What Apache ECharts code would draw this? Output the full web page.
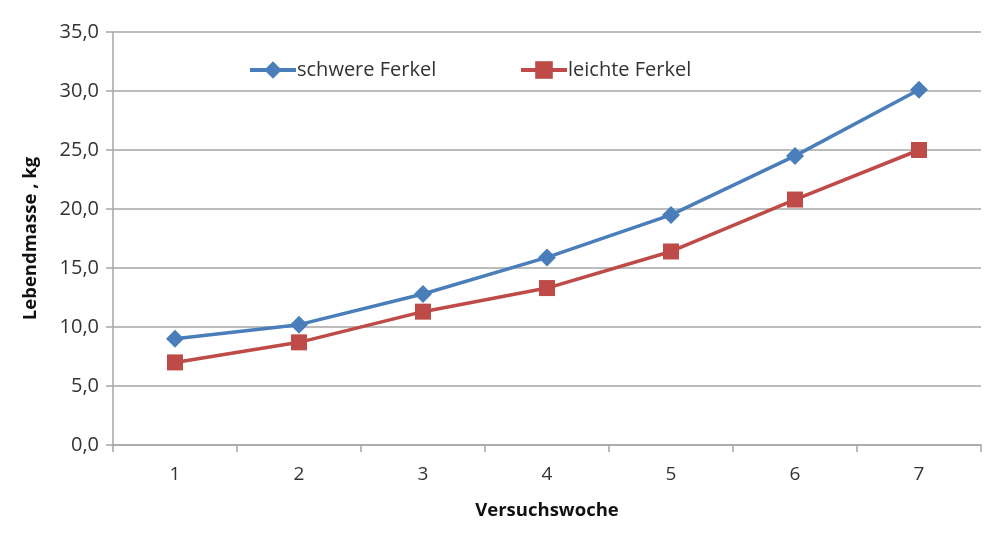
<!DOCTYPE html>
<html>
<head>
<meta charset="utf-8">
<script src="https://cdn.jsdelivr.net/npm/echarts@6/dist/echarts.min.js"></script>
<style>html,body{margin:0;padding:0;background:#fff}#c{width:1000px;height:539px}</style>
</head>
<body>
<div id="c"></div>
<script>
const categories = ['1','2','3','4','5','6','7'];
const schwere = [9.0, 10.2, 12.8, 15.9, 19.5, 24.5, 30.1];
const leichte = [7.0, 8.7, 11.3, 13.3, 16.4, 20.8, 25.0];
const seriesNames = ['schwere Ferkel', 'leichte Ferkel'];

const font = '"Open Sans", Lato, sans-serif';
const chart = echarts.init(document.getElementById('c'));
const legendText = { fontSize: 20, color: '#333', fontFamily: font, padding: [0,0,0,-4] };
chart.setOption({
  animation: false,
  textStyle: { fontFamily: font },
  legend: [
    { data: [seriesNames[0]], left: 248, top: 60, padding: 0, itemWidth: 46, itemHeight: 22, itemGap: 0,
      lineStyle: { width: 4 }, textStyle: legendText },
    { data: [seriesNames[1]], left: 519, top: 60, padding: 0, itemWidth: 46, itemHeight: 22, itemGap: 0,
      lineStyle: { width: 4 }, textStyle: legendText }
  ],
  grid: { left: 113, right: 19, top: 32, bottom: 94, containLabel: false },
  xAxis: {
    type: 'category', data: categories, boundaryGap: true,
    name: 'Versuchswoche', nameLocation: 'middle', nameGap: 56,
    nameTextStyle: { fontSize: 18.5, fontWeight: 'bold', color: '#111', fontFamily: font },
    axisLine: { lineStyle: { color: '#a6a6a6', width: 1.5 } },
    axisTick: { show: true, inside: false, length: 7, alignWithLabel: false, lineStyle: { color: '#a6a6a6', width: 1.5 } },
    axisLabel: { fontSize: 19, color: '#333', margin: 20, fontFamily: font },
    splitLine: { show: false }
  },
  yAxis: {
    type: 'value', min: 0, max: 35, interval: 5,
    name: 'Lebendmasse , kg', nameLocation: 'middle', nameGap: 73, nameRotate: 90,
    nameTextStyle: { fontSize: 18.5, fontWeight: 'bold', color: '#111', fontFamily: font },
    axisLine: { show: true, lineStyle: { color: '#a6a6a6', width: 1.5 } },
    axisTick: { show: true, inside: false, length: 7, lineStyle: { color: '#a6a6a6', width: 1.5 } },
    axisLabel: { fontSize: 20, color: '#333', margin: 14, fontFamily: font,
      formatter: v => v.toFixed(1).replace('.', ',') },
    splitLine: { show: true, lineStyle: { color: '#a6a6a6', width: 1.5 } }
  },
  series: [
    { name: seriesNames[0], type: 'line', data: schwere, symbol: 'diamond', symbolSize: 18,
      itemStyle: { color: '#4a7ebb' }, lineStyle: { color: '#4a7ebb', width: 3.5 } },
    { name: seriesNames[1], type: 'line', data: leichte, symbol: 'rect', symbolSize: 16,
      itemStyle: { color: '#be4b48' }, lineStyle: { color: '#be4b48', width: 3.5 } }
  ]
});
</script>
</body>
</html>
